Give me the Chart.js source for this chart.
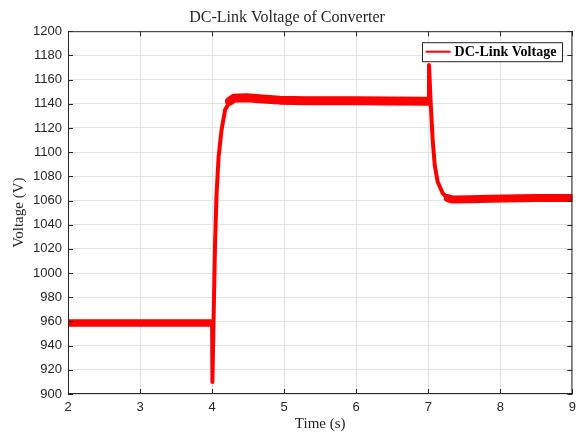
<!DOCTYPE html>
<html>
<head>
<meta charset="utf-8">
<script src="https://cdn.jsdelivr.net/npm/chart.js@4.4.1/dist/chart.umd.min.js"></script>
<style>
  html, body { margin: 0; padding: 0; background: #fff; }
  #wrap { width: 582px; height: 435px; }
</style>
</head>
<body>
<div id="wrap"><canvas id="chart" width="582" height="435"></canvas></div>
<script>
// values
const timeS = [2, 4.0, 4.004, 4.02, 4.04, 4.06, 4.09, 4.13, 4.18, 4.25, 4.34, 4.48, 4.7, 4.94, 5.3, 6.0, 7.0, 7.01, 7.035, 7.06, 7.09, 7.13, 7.2, 7.27, 7.34, 7.57, 7.85, 8.5, 9];
const voltageV = [958.5, 958.5, 910, 960, 1022, 1063, 1096, 1118, 1135, 1142, 1145, 1145, 1144, 1143, 1142.5, 1142.5, 1142, 1172, 1139, 1111, 1089, 1075.5, 1066, 1062, 1060.5, 1061, 1061.5, 1062, 1062];

// ripple envelope on the steady parts (the band the switching ripple paints)
const rippleLowT = [2, 3.985];
const rippleLowV = [958.7, 958.7];
const rippleHighT = [4.24, 4.3, 4.48, 4.7, 4.94, 5.3, 6.0, 6.99];
const rippleHighV = [1142, 1144.5, 1145, 1144, 1143, 1142.5, 1142.5, 1142];
const rippleEndT = [7.27, 7.34, 7.57, 7.85, 8.5, 9];
const rippleEndV = [1062, 1060.8, 1061, 1061.5, 1062, 1062];

const xTicks = [2, 3, 4, 5, 6, 7, 8, 9];
const yTicks = [900, 920, 940, 960, 980, 1000, 1020, 1040, 1060, 1080, 1100, 1120, 1140, 1160, 1180, 1200];

const toPoints = (xs, ys) => xs.map((x, i) => ({ x: x, y: ys[i] }));

const axisColor = '#262626';
const serif = '"Liberation Serif", "Times New Roman", serif';
const sans = '"Liberation Sans", Arial, sans-serif';

// box around the axes + inward ticks on all four sides, MATLAB style
const boxPlugin = {
  id: 'boxPlugin',
  afterDraw(chart) {
    const { ctx, chartArea: a, scales } = chart;
    ctx.save();
    ctx.strokeStyle = axisColor;
    ctx.lineWidth = 1;
    ctx.strokeRect(a.left + 0.5, a.top + 0.5, a.right - a.left - 1, a.bottom - a.top - 1);
    const len = 5;
    ctx.beginPath();
    xTicks.forEach(v => {
      const px = Math.round(scales.x.getPixelForValue(v)) + 0.5;
      ctx.moveTo(px, a.bottom); ctx.lineTo(px, a.bottom - len);
      ctx.moveTo(px, a.top); ctx.lineTo(px, a.top + len);
    });
    yTicks.forEach(v => {
      const py = Math.round(scales.y.getPixelForValue(v)) + 0.5;
      ctx.moveTo(a.left, py); ctx.lineTo(a.left + len, py);
      ctx.moveTo(a.right, py); ctx.lineTo(a.right - len, py);
    });
    ctx.stroke();

    // legend box, top right inside the axes
    const ds = chart.data.datasets[0];
    ctx.font = 'bold 14px ' + serif;
    const textW = ctx.measureText(ds.label).width;
    const boxW = 4 + 25 + 4 + textW + 5;
    const boxH = 19;
    const bx = a.right - 11 - boxW;
    const by = a.top + 11;
    ctx.fillStyle = '#ffffff';
    ctx.fillRect(bx, by, boxW, boxH);
    ctx.strokeStyle = axisColor;
    ctx.strokeRect(Math.round(bx) + 0.5, by + 0.5, Math.round(boxW), boxH);
    ctx.strokeStyle = ds.borderColor;
    ctx.lineWidth = 2;
    ctx.beginPath();
    ctx.moveTo(bx + 4, by + boxH / 2);
    ctx.lineTo(bx + 29, by + boxH / 2);
    ctx.stroke();
    ctx.fillStyle = '#000000';
    ctx.textBaseline = 'middle';
    ctx.textAlign = 'left';
    ctx.fillText(ds.label, bx + 33, by + boxH / 2 + 1);
    ctx.restore();
  }
};

const lineSet = (label, data, width) => ({
  label: label,
  data: data,
  borderColor: '#ff0000',
  backgroundColor: '#ff0000',
  borderWidth: width,
  borderCapStyle: 'round',
  borderJoinStyle: 'round',
  pointRadius: 0,
  tension: 0,
  fill: false
});

new Chart(document.getElementById('chart'), {
  type: 'line',
  data: {
    datasets: [
      lineSet('DC-Link Voltage', toPoints(timeS, voltageV), 4),
      lineSet('ripple low', toPoints(rippleLowT, rippleLowV), 7.5),
      lineSet('ripple high', toPoints(rippleHighT, rippleHighV), 9),
      lineSet('ripple end', toPoints(rippleEndT, rippleEndV), 8)
    ]
  },
  options: {
    responsive: false,
    animation: false,
    devicePixelRatio: 1,
    layout: { padding: { left: 0, right: 8, top: 0, bottom: 0 } },
    plugins: {
      legend: { display: false },
      tooltip: { enabled: false },
      title: {
        display: true,
        text: 'DC-Link Voltage of Converter',
        color: axisColor,
        font: { family: serif, size: 16, weight: 'normal' },
        padding: { top: 8, bottom: 4 }
      }
    },
    scales: {
      x: {
        type: 'linear',
        min: 2,
        max: 9,
        afterBuildTicks: s => { s.ticks = xTicks.map(v => ({ value: v })); },
        afterFit: s => { s.height = 41; },
        grid: { color: '#e3e3e3', drawTicks: false },
        border: { display: false },
        ticks: { color: axisColor, font: { family: sans, size: 13 }, padding: 6, maxRotation: 0, callback: v => String(v) },
        title: {
          display: true,
          text: 'Time (s)',
          color: axisColor,
          font: { family: serif, size: 15 },
          padding: { top: 0, bottom: 2 }
        }
      },
      y: {
        min: 900,
        max: 1200,
        afterBuildTicks: s => { s.ticks = yTicks.map(v => ({ value: v })); },
        afterFit: s => { s.width = 68; },
        grid: { color: '#e3e3e3', drawTicks: false },
        border: { display: false },
        ticks: { color: axisColor, font: { family: sans, size: 13 }, padding: 6, callback: v => String(v) },
        title: {
          display: true,
          text: 'Voltage (V)',
          color: axisColor,
          font: { family: serif, size: 15 },
          padding: { top: 10, bottom: 0 }
        }
      }
    }
  },
  plugins: [boxPlugin]
});
</script>
</body>
</html>
